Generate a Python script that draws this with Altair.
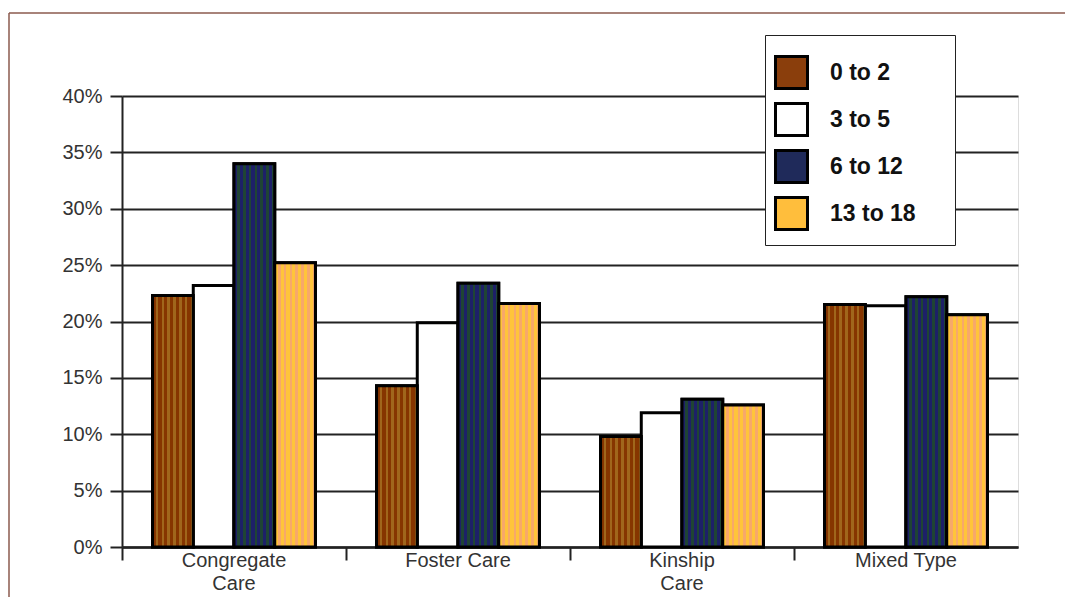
import altair as alt
import pandas as pd

categories = ["Congregate|Care", "Foster Care", "Kinship|Care", "Mixed Type"]
age_groups = ["0 to 2", "3 to 5", "6 to 12", "13 to 18"]
values = {
    "0 to 2":   [0.223, 0.143, 0.098, 0.215],
    "3 to 5":   [0.232, 0.199, 0.119, 0.214],
    "6 to 12":  [0.340, 0.234, 0.131, 0.222],
    "13 to 18": [0.252, 0.216, 0.126, 0.206],
}
colors = ["#8A3E0C", "#FFFFFF", "#1F2A5A", "#FFBE3C"]
stripes = {
    "0 to 2": ("#863500", "#A0661C"),
    "6 to 12": ("#1D2068", "#1F4434"),
    "13 to 18": ("#FFC43A", "#F7A86A"),
}

rows = []
for g in age_groups:
    for c, v in zip(categories, values[g]):
        rows.append({"cat": c, "age": g, "val": v})
df = pd.DataFrame(rows)

FONT = "Liberation Sans"
BLANK = "\u2800"

x_enc = alt.X("cat:N", sort=categories, title=None,
              scale=alt.Scale(domain=categories, paddingInner=0, paddingOuter=0),
              axis=alt.Axis(bandPosition=0, tickSize=13, tickWidth=2,
                            tickColor="#222", domainColor="#222", domainWidth=2.5,
                            labelExpr="split(datum.label, '|')", labelFont=FONT,
                            labelFontSize=20, labelColor="#333", labelPadding=-10,
                            labelLineHeight=23, labelAngle=0, grid=False))
xo_enc = alt.XOffset("age:N", sort=age_groups,
                     scale=alt.Scale(domain=age_groups, paddingInner=0, paddingOuter=0.75))
y_enc = alt.Y("val:Q", title=None,
              scale=alt.Scale(domain=[0, 0.4], nice=False),
              axis=alt.Axis(values=[0, 0.05, 0.1, 0.15, 0.2, 0.25, 0.3, 0.35, 0.4],
                            format=".0%", tickSize=12, tickWidth=2, tickColor="#222",
                            domainColor="#222", domainWidth=2,
                            gridColor="#222", gridWidth=2, grid=True,
                            labelFont=FONT, labelFontSize=20, labelColor="#333",
                            labelPadding=8))

base = alt.Chart(df)

bars = base.mark_bar(stroke="black", strokeWidth=3, strokeJoin="miter").encode(
    x=x_enc, xOffset=xo_enc, y=y_enc,
    color=alt.Color("age:N", sort=age_groups,
                    scale=alt.Scale(domain=age_groups, range=colors),
                    legend=alt.Legend(title=BLANK * 44, titleFont="DejaVu Sans",
                                      titleFontSize=5, titlePadding=6, titleLimit=600,
                                      orient="none", legendX=643, legendY=-61,
                                      symbolType="square", symbolSize=1024,
                                      symbolStrokeColor="black", symbolStrokeWidth=3,
                                      symbolOpacity=1,
                                      labelFont=FONT, labelFontSize=23, labelFontWeight="bold",
                                      labelColor="#111", labelOffset=21, rowPadding=2,
                                      padding=9, strokeColor="#222",
                                      fillColor="white")),
)


def stripe_gradient(c1, c2, n=7):
    stops = []
    for i in range(n):
        a = i / n
        m = (i + 0.55) / n
        b = (i + 1) / n
        stops += [alt.GradientStop(color=c1, offset=a), alt.GradientStop(color=c1, offset=m),
                  alt.GradientStop(color=c2, offset=m), alt.GradientStop(color=c2, offset=b)]
    return alt.Gradient(gradient="linear", stops=stops, x1=0, x2=1, y1=0, y2=0)


overlays = []
for g, (c1, c2) in stripes.items():
    overlays.append(
        base.transform_filter(alt.datum.age == g)
        .mark_bar(fill=stripe_gradient(c1, c2), stroke="black", strokeWidth=3, strokeJoin="miter")
        .encode(x=x_enc, xOffset=xo_enc, y=y_enc)
    )

frame_top = alt.Chart(pd.DataFrame({"k": [0]})).mark_rule(color="#8B5A4E", strokeWidth=1.5).encode(
    x=alt.value(-113), x2=alt.value(980), y=alt.value(-83))
frame_left = alt.Chart(pd.DataFrame({"k": [0]})).mark_rule(color="#8B5A4E", strokeWidth=1.5).encode(
    x=alt.value(-113), y=alt.value(-83), y2=alt.value(530))

chart = alt.layer(frame_top, frame_left, bars, *overlays).properties(
    width=896, height=451,
    autosize=alt.AutoSizeParams(type="none"),
    padding={"left": 114, "top": 88, "right": 47, "bottom": 50},
).configure_view(stroke=None).configure(background="white")

chart.save("out.html", embed_options={"renderer": "svg", "actions": False})
